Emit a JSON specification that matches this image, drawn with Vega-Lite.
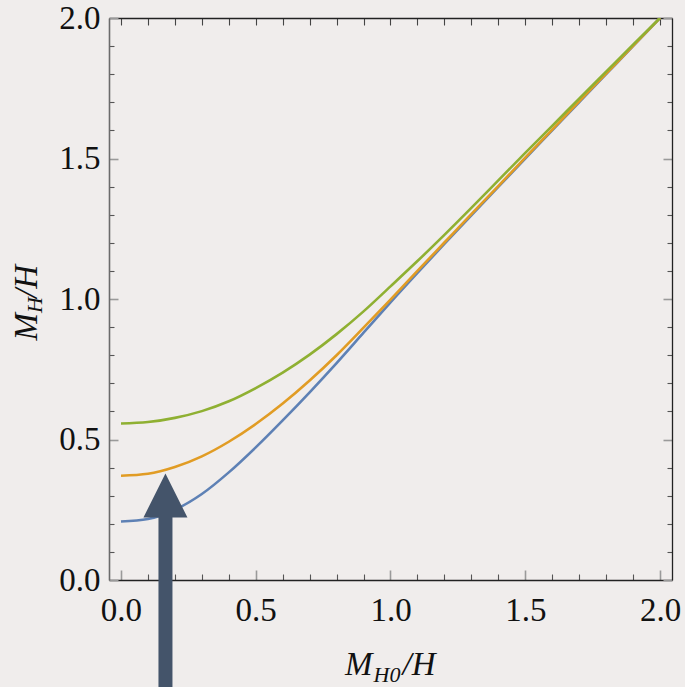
{
  "$schema": "https://vega.github.io/schema/vega-lite/v6.json",
  "width": 563,
  "height": 562,
  "autosize": {"type": "none"},
  "padding": {"left": 109, "top": 18, "right": 13, "bottom": 107},
  "background": "#f0edec",
  "view": {"stroke": null},
  "config": {"font": "Liberation Serif"},
  "datasets": {
    "curves": [
      {"s": "a", "x": 0.0, "y": 0.208}, {"s": "a", "x": 0.1, "y": 0.217}, {"s": "a", "x": 0.2, "y": 0.25}, {"s": "a", "x": 0.3, "y": 0.306}, {"s": "a", "x": 0.4, "y": 0.383}, {"s": "a", "x": 0.5, "y": 0.472}, {"s": "a", "x": 0.6, "y": 0.568}, {"s": "a", "x": 0.7, "y": 0.668}, {"s": "a", "x": 0.8, "y": 0.772}, {"s": "a", "x": 0.9, "y": 0.88}, {"s": "a", "x": 1.0, "y": 0.988}, {"s": "a", "x": 1.1, "y": 1.093}, {"s": "a", "x": 1.2, "y": 1.196}, {"s": "a", "x": 1.3, "y": 1.298}, {"s": "a", "x": 1.4, "y": 1.399}, {"s": "a", "x": 1.5, "y": 1.5}, {"s": "a", "x": 1.6, "y": 1.6}, {"s": "a", "x": 1.7, "y": 1.7}, {"s": "a", "x": 1.8, "y": 1.8}, {"s": "a", "x": 1.9, "y": 1.9}, {"s": "a", "x": 2.0, "y": 2.0},
      {"s": "b", "x": 0.0, "y": 0.371}, {"s": "b", "x": 0.1, "y": 0.378}, {"s": "b", "x": 0.2, "y": 0.402}, {"s": "b", "x": 0.3, "y": 0.44}, {"s": "b", "x": 0.4, "y": 0.492}, {"s": "b", "x": 0.5, "y": 0.555}, {"s": "b", "x": 0.6, "y": 0.628}, {"s": "b", "x": 0.7, "y": 0.71}, {"s": "b", "x": 0.8, "y": 0.8}, {"s": "b", "x": 0.9, "y": 0.898}, {"s": "b", "x": 1.0, "y": 0.998}, {"s": "b", "x": 1.1, "y": 1.1}, {"s": "b", "x": 1.2, "y": 1.201}, {"s": "b", "x": 1.3, "y": 1.302}, {"s": "b", "x": 1.4, "y": 1.402}, {"s": "b", "x": 1.5, "y": 1.503}, {"s": "b", "x": 1.6, "y": 1.603}, {"s": "b", "x": 1.7, "y": 1.703}, {"s": "b", "x": 1.8, "y": 1.802}, {"s": "b", "x": 1.9, "y": 1.901}, {"s": "b", "x": 2.0, "y": 2.0},
      {"s": "c", "x": 0.0, "y": 0.557}, {"s": "c", "x": 0.1, "y": 0.562}, {"s": "c", "x": 0.2, "y": 0.577}, {"s": "c", "x": 0.3, "y": 0.601}, {"s": "c", "x": 0.4, "y": 0.636}, {"s": "c", "x": 0.5, "y": 0.683}, {"s": "c", "x": 0.6, "y": 0.738}, {"s": "c", "x": 0.7, "y": 0.802}, {"s": "c", "x": 0.8, "y": 0.875}, {"s": "c", "x": 0.9, "y": 0.956}, {"s": "c", "x": 1.0, "y": 1.045}, {"s": "c", "x": 1.1, "y": 1.135}, {"s": "c", "x": 1.2, "y": 1.228}, {"s": "c", "x": 1.3, "y": 1.324}, {"s": "c", "x": 1.4, "y": 1.422}, {"s": "c", "x": 1.5, "y": 1.52}, {"s": "c", "x": 1.6, "y": 1.616}, {"s": "c", "x": 1.7, "y": 1.713}, {"s": "c", "x": 1.8, "y": 1.809}, {"s": "c", "x": 1.9, "y": 1.905}, {"s": "c", "x": 2.0, "y": 2.0}
    ],
    "one": [{}]
  },
  "layer": [
    {
      "data": {"name": "curves"},
      "mark": {"type": "line", "strokeWidth": 2.6, "interpolate": "monotone", "clip": true},
      "encoding": {
        "x": {
          "field": "x", "type": "quantitative",
          "scale": {"domain": [-0.0445, 2.0445], "nice": false, "zero": false},
          "axis": {
            "orient": "bottom", "title": null, "grid": false,
            "values": [0, 0.1, 0.2, 0.3, 0.4, 0.5, 0.6, 0.7, 0.8, 0.9, 1, 1.1, 1.2, 1.3, 1.4, 1.5, 1.6, 1.7, 1.8, 1.9, 2],
            "labelExpr": "abs(datum.value*2 - round(datum.value*2)) < 0.001 ? format(datum.value, '.1f') : ''",
            "labelFont": "Liberation Serif", "labelFontSize": 33, "labelColor": "#111",
            "labelPadding": 24, "labelFlush": false, "labelOverlap": false,
            "tickSize": {"condition": {"test": "abs(datum.value*2 - round(datum.value*2)) < 0.001", "value": -10}, "value": -6},
            "tickColor": {"condition": {"test": "abs(datum.value*2 - round(datum.value*2)) < 0.001", "value": "#9a9a9a"}, "value": "#555555"},
            "tickWidth": {"condition": {"test": "abs(datum.value*2 - round(datum.value*2)) < 0.001", "value": 1.6}, "value": 1.1},
            "domainColor": "#222222", "domainWidth": 1.3
          }
        },
        "y": {
          "field": "y", "type": "quantitative",
          "scale": {"domain": [0, 2], "nice": false, "zero": false},
          "axis": {
            "orient": "left", "title": null, "grid": false,
            "values": [0, 0.1, 0.2, 0.3, 0.4, 0.5, 0.6, 0.7, 0.8, 0.9, 1, 1.1, 1.2, 1.3, 1.4, 1.5, 1.6, 1.7, 1.8, 1.9, 2],
            "labelExpr": "abs(datum.value*2 - round(datum.value*2)) < 0.001 ? format(datum.value, '.1f') : ''",
            "labelFont": "Liberation Serif", "labelFontSize": 33, "labelColor": "#111",
            "labelPadding": 18, "labelFlush": false, "labelOverlap": false,
            "tickSize": {"condition": {"test": "abs(datum.value*2 - round(datum.value*2)) < 0.001", "value": -9}, "value": -5},
            "tickColor": {"condition": {"test": "abs(datum.value*2 - round(datum.value*2)) < 0.001", "value": "#9a9a9a"}, "value": "#555555"},
            "tickWidth": {"condition": {"test": "abs(datum.value*2 - round(datum.value*2)) < 0.001", "value": 1.6}, "value": 1.1},
            "domainColor": "#6b6b6b", "domainWidth": 1.6
          }
        },
        "color": {
          "field": "s", "type": "nominal",
          "scale": {"domain": ["a", "b", "c"], "range": ["#5e81b5", "#e19c24", "#8fb032"]},
          "legend": null
        }
      }
    },
    {
      "data": {"name": "curves"},
      "mark": {"type": "line", "opacity": 0},
      "encoding": {
        "x": {
          "field": "x", "type": "quantitative",
          "scale": {"domain": [-0.0445, 2.0445], "nice": false, "zero": false},
          "axis": {
            "orient": "top", "title": null, "grid": false, "labels": false,
            "values": [0, 0.1, 0.2, 0.3, 0.4, 0.5, 0.6, 0.7, 0.8, 0.9, 1, 1.1, 1.2, 1.3, 1.4, 1.5, 1.6, 1.7, 1.8, 1.9, 2],
            "tickSize": -7, "tickColor": "#444444", "tickWidth": 1.1,
            "domainColor": "#222222", "domainWidth": 1.3
          }
        },
        "y": {
          "field": "y", "type": "quantitative",
          "scale": {"domain": [0, 2], "nice": false, "zero": false},
          "axis": {
            "orient": "right", "title": null, "grid": false, "labels": false,
            "values": [0, 0.1, 0.2, 0.3, 0.4, 0.5, 0.6, 0.7, 0.8, 0.9, 1, 1.1, 1.2, 1.3, 1.4, 1.5, 1.6, 1.7, 1.8, 1.9, 2],
            "tickSize": {"condition": {"test": "abs(datum.value*2 - round(datum.value*2)) < 0.001", "value": -9}, "value": -5},
            "tickColor": {"condition": {"test": "abs(datum.value*2 - round(datum.value*2)) < 0.001", "value": "#9a9a9a"}, "value": "#555555"},
            "tickWidth": {"condition": {"test": "abs(datum.value*2 - round(datum.value*2)) < 0.001", "value": 1.6}, "value": 1.1},
            "domainColor": "#222222", "domainWidth": 1.3
          }
        }
      }
    },
    {
      "data": {"name": "one"},
      "mark": {"type": "rule", "strokeWidth": 14, "color": "#44546a", "strokeCap": "butt"},
      "encoding": {
        "x": {"datum": 0.165, "type": "quantitative", "scale": {"domain": [-0.0445, 2.0445], "nice": false, "zero": false}, "axis": null},
        "y": {"datum": 0.23, "type": "quantitative", "scale": {"domain": [0, 2], "nice": false, "zero": false}, "axis": null},
        "y2": {"datum": -0.5}
      }
    },
    {
      "data": {"name": "one"},
      "mark": {"type": "point", "shape": "M0,-1L1,1L-1,1Z", "size": 1936, "filled": true, "color": "#44546a", "opacity": 1, "strokeWidth": 0},
      "encoding": {
        "x": {"datum": 0.165, "type": "quantitative", "scale": {"domain": [-0.0445, 2.0445], "nice": false, "zero": false}, "axis": null},
        "y": {"datum": 0.3007, "type": "quantitative", "scale": {"domain": [0, 2], "nice": false, "zero": false}, "axis": null}
      }
    },
    {
      "data": {"name": "one"},
      "mark": {"type": "text", "text": "M", "font": "Liberation Serif", "fontStyle": "italic", "fontSize": 33, "align": "right", "baseline": "alphabetic", "dx": -18, "dy": 95, "color": "#111111"},
      "encoding": {
        "x": {"datum": 1.0, "type": "quantitative", "scale": {"domain": [-0.0445, 2.0445], "nice": false, "zero": false}, "axis": null},
        "y": {"datum": 0, "type": "quantitative", "scale": {"domain": [0, 2], "nice": false, "zero": false}, "axis": null}
      }
    },
    {
      "data": {"name": "one"},
      "mark": {"type": "text", "text": "H0", "font": "Liberation Serif", "fontStyle": "italic", "fontSize": 22, "align": "left", "baseline": "alphabetic", "dx": -17, "dy": 102, "color": "#111111"},
      "encoding": {
        "x": {"datum": 1.0, "type": "quantitative", "scale": {"domain": [-0.0445, 2.0445], "nice": false, "zero": false}, "axis": null},
        "y": {"datum": 0, "type": "quantitative", "scale": {"domain": [0, 2], "nice": false, "zero": false}, "axis": null}
      }
    },
    {
      "data": {"name": "one"},
      "mark": {"type": "text", "text": "/H", "font": "Liberation Serif", "fontStyle": "italic", "fontSize": 33, "align": "left", "baseline": "alphabetic", "dx": 12, "dy": 95, "color": "#111111"},
      "encoding": {
        "x": {"datum": 1.0, "type": "quantitative", "scale": {"domain": [-0.0445, 2.0445], "nice": false, "zero": false}, "axis": null},
        "y": {"datum": 0, "type": "quantitative", "scale": {"domain": [0, 2], "nice": false, "zero": false}, "axis": null}
      }
    },
    {
      "data": {"name": "one"},
      "mark": {"type": "text", "text": "M", "font": "Liberation Serif", "fontStyle": "italic", "fontSize": 33, "align": "right", "baseline": "alphabetic", "angle": 270, "dx": -14, "dy": -84, "color": "#111111"},
      "encoding": {
        "x": {"datum": 0, "type": "quantitative", "scale": {"domain": [-0.0445, 2.0445], "nice": false, "zero": false}, "axis": null},
        "y": {"datum": 1.0, "type": "quantitative", "scale": {"domain": [0, 2], "nice": false, "zero": false}, "axis": null}
      }
    },
    {
      "data": {"name": "one"},
      "mark": {"type": "text", "text": "H", "font": "Liberation Serif", "fontStyle": "italic", "fontSize": 22, "align": "left", "baseline": "alphabetic", "angle": 270, "dx": -14, "dy": -79, "color": "#111111"},
      "encoding": {
        "x": {"datum": 0, "type": "quantitative", "scale": {"domain": [-0.0445, 2.0445], "nice": false, "zero": false}, "axis": null},
        "y": {"datum": 1.0, "type": "quantitative", "scale": {"domain": [0, 2], "nice": false, "zero": false}, "axis": null}
      }
    },
    {
      "data": {"name": "one"},
      "mark": {"type": "text", "text": "/H", "font": "Liberation Serif", "fontStyle": "italic", "fontSize": 33, "align": "left", "baseline": "alphabetic", "angle": 270, "dx": 1, "dy": -84, "color": "#111111"},
      "encoding": {
        "x": {"datum": 0, "type": "quantitative", "scale": {"domain": [-0.0445, 2.0445], "nice": false, "zero": false}, "axis": null},
        "y": {"datum": 1.0, "type": "quantitative", "scale": {"domain": [0, 2], "nice": false, "zero": false}, "axis": null}
      }
    }
  ],
  "resolve": {"axis": {"x": "independent", "y": "independent"}}
}
